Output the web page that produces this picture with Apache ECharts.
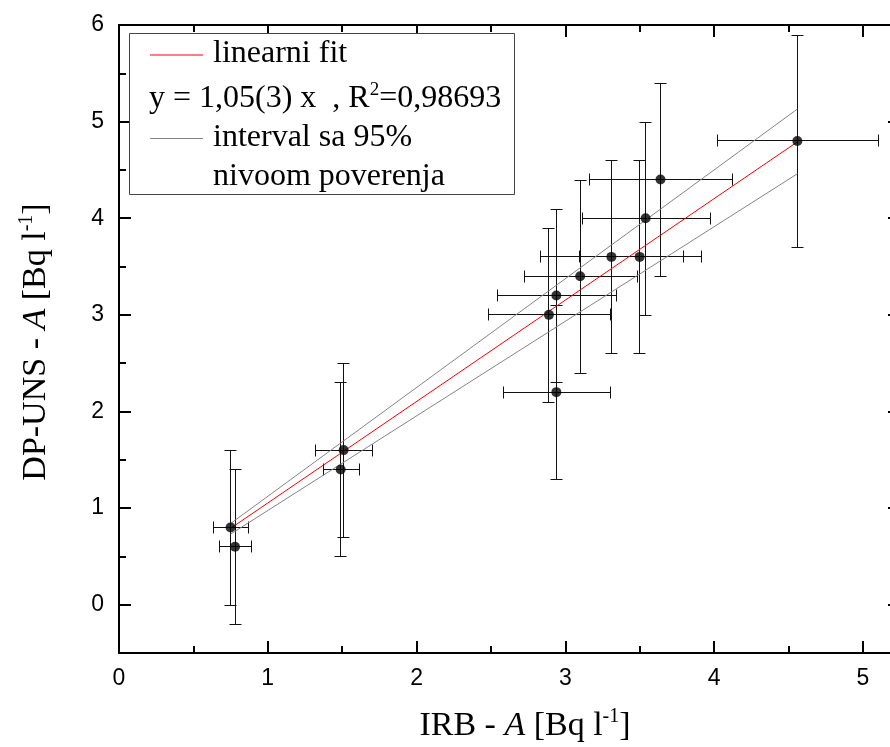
<!DOCTYPE html>
<html>
<head>
<meta charset="utf-8">
<script src="https://cdn.jsdelivr.net/npm/echarts@6/dist/echarts.min.js"></script>
<style>
  html, body { margin: 0; padding: 0; background: #fff; overflow: hidden; }
  #chart { width: 902px; height: 747px; }
</style>
</head>
<body>
<div id="chart"></div>
<script>
// ---- data ----
const xVals = [0.75, 0.78, 1.51, 1.49, 2.89, 2.94, 2.94, 3.10, 3.31, 3.50, 3.54, 3.64, 4.56];
const yVals = [0.8, 0.6, 1.6, 1.4, 3.0, 3.2, 2.2, 3.4, 3.6, 3.6, 4.0, 4.4, 4.8];
const xErr  = [0.12, 0.11, 0.19, 0.12, 0.41, 0.40, 0.36, 0.38, 0.48, 0.41, 0.43, 0.48, 0.54];
const yErr  = [0.8, 0.8, 0.9, 0.9, 0.9, 0.9, 0.9, 1.0, 1.0, 1.0, 1.0, 1.0, 1.1];
const fitLine   = [[0.75, 0.79], [4.56, 4.79]];
const bandUpper = [[0.75, 0.84], [4.56, 5.13]];
const bandLower = [[0.75, 0.73], [4.56, 4.46]];
const xTicks = [0, 1, 2, 3, 4, 5];
const xMinor = [0.5, 1.5, 2.5, 3.5, 4.5];
const yTicks = [0, 1, 2, 3, 4, 5, 6];
const yMinor = [0.5, 1.5, 2.5, 3.5, 4.5, 5.5];
const legendTexts = ['linearni fit', 'y = 1,05(3) x  , R', '2', '=0,98693', 'interval sa 95%', 'nivoom poverenja'];
const xTitle = ['IRB - ', 'A', ' [Bq l', '-1', ']'];
const yTitle = ['DP-UNS - ', 'A', ' [Bq l', '-1', ']'];

const X_MIN = 0, X_MAX = 5.25, Y_MIN = -0.5, Y_MAX = 6;

const chart = echarts.init(document.getElementById('chart'));

function mkAxis(kind, pos, major, showLabel, showLine) {
  const isX = kind === 'x';
  return {
    type: 'value',
    position: pos,
    min: isX ? X_MIN : Y_MIN,
    max: isX ? X_MAX : Y_MAX,
    splitLine: { show: false },
    axisLine: { show: showLine, onZero: false, lineStyle: { color: '#000', width: 2 } },
    axisTick: {
      show: true, inside: true, length: major ? 12 : 7,
      customValues: major ? (isX ? xTicks : yTicks) : (isX ? xMinor : yMinor),
      lineStyle: { color: '#000', width: 2 }
    },
    axisLabel: {
      show: showLabel,
      customValues: isX ? xTicks : yTicks,
      color: '#000', fontSize: 23, fontFamily: 'Liberation Sans',
      margin: isX ? 14 : 15
    }
  };
}

const errData = xVals.map((x, i) => [x, yVals[i], xErr[i], yErr[i]]);

function renderErr(params, api) {
  const x = api.value(0), y = api.value(1), xe = api.value(2), ye = api.value(3);
  const s = v => Math.round(v - 0.5) + 0.5;
  const l = api.coord([x - xe, y]), r = api.coord([x + xe, y]);
  const t = api.coord([x, y + ye]), b = api.coord([x, y - ye]);
  const cx = s(t[0]), cy = s(l[1]);
  const lx = Math.round(l[0]), rx = Math.round(r[0]);
  const ty = Math.round(t[1]), by = Math.round(b[1]);
  const c = 6;
  const st = { stroke: '#111', lineWidth: 1 };
  const line = (x1, y1, x2, y2) => ({ type: 'line', shape: { x1, y1, x2, y2 }, style: st });
  return {
    type: 'group',
    children: [
      line(lx, cy, rx, cy),
      line(cx, ty, cx, by),
      line(s(lx), cy - c, s(lx), cy + c),
      line(s(rx), cy - c, s(rx), cy + c),
      line(cx - c, s(ty), cx + c, s(ty)),
      line(cx - c, s(by), cx + c, s(by))
    ]
  };
}

const serifFont = 'Liberation Serif';
function richTitle(parts, size) {
  return {
    text: '{a|' + parts[0] + '}{i|' + parts[1] + '}{a|' + parts[2] + '}{s|' + parts[3] + '}{a|' + parts[4] + '}',
    rich: {
      a: { fontSize: size, fontFamily: serifFont, fill: '#000', lineHeight: size + 4 },
      i: { fontSize: size, fontFamily: serifFont, fontStyle: 'italic', fill: '#000', lineHeight: size + 4 },
      s: { fontSize: Math.round(size * 0.58), fontFamily: serifFont, fill: '#000', verticalAlign: 'top', lineHeight: Math.round(size * 0.58) }
    }
  };
}

const LS = 32;
const option = {
  animation: false,
  backgroundColor: '#fff',
  grid: { left: 119, top: 25, width: 781, height: 628, containLabel: false },
  xAxis: [
    mkAxis('x', 'bottom', true, true, true),
    mkAxis('x', 'bottom', false, false, false),
    mkAxis('x', 'top', true, false, true),
    mkAxis('x', 'top', false, false, false)
  ],
  yAxis: [
    mkAxis('y', 'left', true, true, true),
    mkAxis('y', 'left', false, false, false),
    mkAxis('y', 'right', true, false, true),
    mkAxis('y', 'right', false, false, false)
  ],
  series: [
    {
      type: 'custom', name: 'err', renderItem: renderErr, data: errData,
      encode: { x: 0, y: 1 }, z: 2, clip: false
    },
    {
      type: 'line', data: bandUpper, symbol: 'none', z: 3,
      lineStyle: { color: '#858585', width: 1 }
    },
    {
      type: 'line', data: bandLower, symbol: 'none', z: 3,
      lineStyle: { color: '#858585', width: 1 }
    },
    {
      type: 'line', data: fitLine, symbol: 'none', z: 4,
      lineStyle: { color: '#ff0000', width: 1 }
    },
    {
      type: 'scatter', data: xVals.map((x, i) => [x, yVals[i]]), z: 5,
      symbol: 'circle', symbolSize: 10, itemStyle: { color: '#000' }
    }
  ],
  graphic: [
    {
      type: 'rect', z: 100, shape: { x: 129.5, y: 33.5, width: 385, height: 161 },
      style: { fill: '#fff', stroke: '#444', lineWidth: 1 }
    },
    { type: 'line', z: 101, shape: { x1: 150, y1: 55, x2: 203, y2: 55 }, style: { stroke: '#ff0000', lineWidth: 1.2 } },
    { type: 'line', z: 101, shape: { x1: 150, y1: 138.5, x2: 203, y2: 138.5 }, style: { stroke: '#858585', lineWidth: 1 } },
    {
      type: 'text', z: 101, x: 213, y: 54,
      style: { text: legendTexts[0], fontSize: LS, fontFamily: serifFont, fill: '#000', verticalAlign: 'middle' }
    },
    {
      type: 'text', z: 101, x: 149, y: 99,
      style: {
        text: '{a|' + legendTexts[1] + '}{s|' + legendTexts[2] + '}{a|' + legendTexts[3] + '}',
        verticalAlign: 'middle',
        rich: {
          a: { fontSize: LS, fontFamily: serifFont, fill: '#000', lineHeight: LS + 4 },
          s: { fontSize: 19, fontFamily: serifFont, fill: '#000', verticalAlign: 'top', lineHeight: 19 }
        }
      }
    },
    {
      type: 'text', z: 101, x: 213, y: 138,
      style: { text: legendTexts[4], fontSize: LS, fontFamily: serifFont, fill: '#000', verticalAlign: 'middle' }
    },
    {
      type: 'text', z: 101, x: 213, y: 177,
      style: { text: legendTexts[5], fontSize: LS, fontFamily: serifFont, fill: '#000', verticalAlign: 'middle' }
    },
    {
      type: 'text', z: 101, x: 525, y: 726,
      style: Object.assign(richTitle(xTitle, 34), { align: 'center', verticalAlign: 'middle' })
    },
    {
      type: 'text', z: 101, x: 36, y: 342, rotation: Math.PI / 2,
      style: Object.assign(richTitle(yTitle, 34), { align: 'center', verticalAlign: 'middle' })
    }
  ]
};
chart.setOption(option);
</script>
</body>
</html>
